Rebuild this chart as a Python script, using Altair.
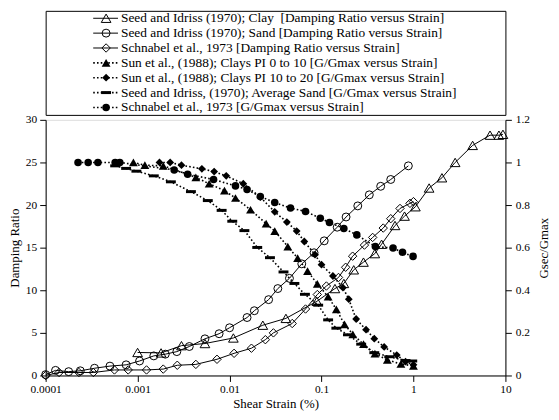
import altair as alt
import pandas as pd

FONT = "Liberation Serif, Times New Roman, DejaVu Serif, serif"

# ---------------- data ----------------
# Damping ratio (left axis, %)
clay_d_strain = [0.001, 0.0018, 0.003, 0.0054, 0.011, 0.023, 0.041, 0.089, 0.14, 0.175,
                 0.224, 0.286, 0.38, 0.45, 0.63, 0.8, 1.05, 1.48, 2.04, 2.84, 4.4, 6.8, 8.5, 9.4]
clay_d_value = [2.7, 2.65, 3.5, 3.75, 4.4, 5.9, 6.7, 8.7, 10.2, 10.8,
                12.4, 13.3, 14.3, 15.4, 17.6, 18.7, 19.8, 22.0, 23.2, 25.0, 27.0, 28.2, 28.2, 28.3]

sand_d_strain = [0.0001, 0.000128, 0.000178, 0.000238, 0.00034, 0.0005, 0.00075, 0.00105, 0.0015,
                 0.002, 0.00267, 0.00365, 0.0054, 0.0077, 0.01, 0.0155, 0.0186, 0.0266, 0.0335,
                 0.0448, 0.061, 0.083, 0.107, 0.148, 0.185, 0.248, 0.331, 0.44, 0.566, 0.88]
sand_d_value = [0.1, 0.6, 0.45, 0.55, 0.85, 1.1, 1.25, 1.7, 2.3,
                2.5, 2.8, 3.4, 4.3, 4.9, 5.6, 6.8, 7.6, 8.9, 10.2,
                11.4, 13.1, 14.4, 15.8, 17.4, 18.6, 19.9, 21.2, 22.2, 23.0, 24.6]

schn_d_strain = [0.0001, 0.00014, 0.00023, 0.00033, 0.00056, 0.00079, 0.00125, 0.0019, 0.0027,
                 0.0043, 0.0073, 0.0112, 0.0173, 0.0245, 0.030, 0.048, 0.067, 0.090, 0.113,
                 0.153, 0.183, 0.218, 0.293, 0.36, 0.469, 0.566, 0.714, 0.916, 1.0]
schn_d_value = [0.0, 0.35, 0.35, 0.35, 0.65, 0.65, 0.65, 0.75, 1.2,
                1.3, 1.9, 2.6, 3.2, 4.2, 5.0, 6.1, 7.8, 9.5, 10.5,
                11.5, 12.7, 14.0, 15.3, 16.2, 17.3, 18.4, 19.6, 20.2, 20.4]

# G/Gmax (right axis)
sun1_strain = [0.0009, 0.0012, 0.0019, 0.0043, 0.006, 0.0088, 0.0116, 0.0169, 0.025, 0.031,
               0.043, 0.055, 0.0705, 0.090, 0.118, 0.145, 0.178, 0.219, 0.286, 0.381, 0.52, 0.73, 1.0]
sun1_g = [1.0, 0.987, 0.984, 0.93, 0.9, 0.868, 0.833, 0.778, 0.713, 0.678,
          0.605, 0.551, 0.49, 0.43, 0.37, 0.31, 0.24, 0.193, 0.147, 0.103, 0.073, 0.054, 0.045]

sun2_strain = [0.00173, 0.00226, 0.003, 0.005, 0.0068, 0.0092, 0.0141, 0.0216, 0.031, 0.042,
               0.0537, 0.065, 0.085, 0.1, 0.133, 0.171, 0.198, 0.238, 0.305, 0.375, 0.48,
               0.658, 0.82, 1.0]
sun2_g = [1.0, 1.0, 0.987, 0.97, 0.957, 0.937, 0.9, 0.837, 0.768, 0.72,
          0.678, 0.629, 0.567, 0.52, 0.467, 0.412, 0.358, 0.265, 0.215, 0.173, 0.134,
          0.096, 0.065, 0.05]

avgsand_strain = [0.00057, 0.00075, 0.00097, 0.0015, 0.0023, 0.0038, 0.0058, 0.0082, 0.0107,
                  0.0145, 0.02, 0.0275, 0.0386, 0.0507, 0.066, 0.092, 0.118, 0.145, 0.194,
                  0.27, 0.375, 0.545, 0.82, 0.97]
avgsand_g = [0.984, 0.972, 0.959, 0.937, 0.909, 0.863, 0.821, 0.775, 0.724,
             0.68, 0.601, 0.553, 0.486, 0.432, 0.381, 0.33, 0.261, 0.222, 0.191,
             0.147, 0.107, 0.088, 0.07, 0.068]

schn_g_strain = [0.000225, 0.00029, 0.00037, 0.00057, 0.00064, 0.0025, 0.0035, 0.0067, 0.0116,
                 0.0155, 0.0216, 0.031, 0.046, 0.067, 0.097, 0.122, 0.175, 0.242, 0.385, 0.6,
                 0.76, 0.99]
schn_g_value = [1.0, 1.0, 1.0, 1.0, 1.0, 0.965, 0.945, 0.92, 0.89,
                0.873, 0.84, 0.812, 0.786, 0.77, 0.738, 0.718, 0.69, 0.66, 0.605, 0.598,
                0.578, 0.559]

labels = [
    "Seed and Idriss (1970); Clay\u00a0 [Damping Ratio versus Strain]",
    "Seed and Idriss (1970); Sand [Damping Ratio versus Strain]",
    "Schnabel et al., 1973 [Damping Ratio versus Strain]",
    "Sun et al., (1988); Clays PI 0 to 10 [G/Gmax versus Strain]",
    "Sun et al., (1988); Clays PI 10 to 20 [G/Gmax versus Strain]",
    "Seed and Idriss, (1970); Average Sand [G/Gmax versus Strain]",
    "Schnabel et al., 1973 [G/Gmax versus Strain]",
]

x_ticks = [0.0001, 0.001, 0.01, 0.1, 1, 10]
left_ticks = [0, 5, 10, 15, 20, 25, 30]
right_ticks = [0, 0.2, 0.4, 0.6, 0.8, 1.0, 1.2]

DASH_SHAPE = "M-1,-0.3L1,-0.3L1,0.3L-1,0.3Z"

# series style: (label index, strain, values, axis group, shape, filled, size)
series = [
    (0, clay_d_strain, clay_d_value, "d", "triangle-up", False, 95),
    (1, sand_d_strain, sand_d_value, "d", "circle", False, 64),
    (2, schn_d_strain, schn_d_value, "d", "diamond", False, 72),
    (3, sun1_strain, sun1_g, "g", "triangle-up", True, 80),
    (4, sun2_strain, sun2_g, "g", "diamond", True, 62),
    (5, avgsand_strain, avgsand_g, "g", DASH_SHAPE, True, 100),
    (6, schn_g_strain, schn_g_value, "g", "circle", True, 58),
]

W, H = 464, 258
LEG_W, LEG_H = 464, 105

axis_common = dict(
    grid=False, domainColor="black", tickColor="black", labelColor="black",
    titleColor="black", labelFont=FONT, titleFont=FONT, labelFontSize=11.5,
    titleFontSize=13, titleFontWeight="normal", tickSize=6, domainWidth=1, tickWidth=1,
)


def x_enc():
    return alt.X(
        "strain:Q",
        scale=alt.Scale(type="log", domain=[0.0001, 10], nice=False),
        axis=alt.Axis(values=x_ticks, format="~g", title="Shear Strain (%)",
                      labelPadding=2, titlePadding=3, labelFlush=False, **axis_common),
    )


def y_enc(group):
    if group == "d":
        return alt.Y(
            "value:Q",
            scale=alt.Scale(domain=[0, 30], nice=False, zero=False),
            axis=alt.Axis(orient="left", values=left_ticks, title="Damping Ratio",
                          labelPadding=3, titlePadding=4, **axis_common),
        )
    return alt.Y(
        "value:Q",
        scale=alt.Scale(domain=[0, 1.2], nice=False, zero=False),
        axis=alt.Axis(orient="right", values=right_ticks, format="~g", title="Gsec/Gmax",
                      titleAngle=270, titleBaseline="bottom", titleAlign="center",
                      titleX=45, titleY=H / 2, labelPadding=4, **axis_common),
    )


d_layers, g_layers = [], []
for idx, xs, ys, grp, shape, filled, size in series:
    df = pd.DataFrame({"strain": xs, "value": ys})
    base = alt.Chart(df)
    if grp == "d":
        line = base.mark_line(color="black", strokeWidth=1, clip=True)
    else:
        line = base.mark_line(color="black", strokeWidth=1.6, strokeDash=[1.6, 2.2], clip=True)
    pts = base.mark_point(shape=shape, filled=filled, size=size, color="black",
                          strokeWidth=1, opacity=1)
    layer = [line.encode(x=x_enc(), y=y_enc(grp)), pts.encode(x=x_enc(), y=y_enc(grp))]
    (d_layers if grp == "d" else g_layers).extend(layer)

main = alt.layer(alt.layer(*d_layers), alt.layer(*g_layers)).resolve_scale(
    y="independent"
).properties(width=W, height=H)

# ---------------- legend panel ----------------
SEG_START, SEG_END, MARK_X, TEXT_X = 48, 73, 61, 76
leg_x = alt.Scale(domain=[0, LEG_W], nice=False, zero=False)
leg_y = alt.Scale(type="point", domain=labels, padding=0.5)

leg_layers = []
for idx, xs, ys, grp, shape, filled, size in series:
    row = pd.DataFrame({"label": [labels[idx]], "x0": [SEG_START], "x1": [SEG_END],
                        "xm": [MARK_X], "xt": [TEXT_X]})
    b = alt.Chart(row)
    if grp == "d":
        rule = b.mark_rule(color="black", strokeWidth=1)
    else:
        rule = b.mark_rule(color="black", strokeWidth=1.6, strokeDash=[1.6, 2.2])
    leg_layers.append(rule.encode(
        x=alt.X("x0:Q", scale=leg_x, axis=None), x2="x1:Q",
        y=alt.Y("label:N", scale=leg_y, axis=None)))
    leg_layers.append(b.mark_point(shape=shape, filled=filled, size=size, color="black",
                                   strokeWidth=1, opacity=1).encode(
        x=alt.X("xm:Q", scale=leg_x, axis=None),
        y=alt.Y("label:N", scale=leg_y, axis=None)))
    leg_layers.append(b.mark_text(align="left", baseline="middle", font=FONT, fontSize=13.5,
                                  color="black").encode(
        x=alt.X("xt:Q", scale=leg_x, axis=None),
        y=alt.Y("label:N", scale=leg_y, axis=None),
        text="label:N"))

legend = alt.layer(*leg_layers).properties(
    width=LEG_W, height=LEG_H,
    view=alt.ViewBackground(stroke="black", strokeWidth=1),
)

chart = alt.vconcat(legend, main, spacing=5, bounds="flush").resolve_scale(
    x="independent", y="independent"
).properties(padding=0).configure_view(stroke=None).configure(font=FONT, background="white")

chart.save("out.html", embed_options={"renderer": "svg", "actions": False})
